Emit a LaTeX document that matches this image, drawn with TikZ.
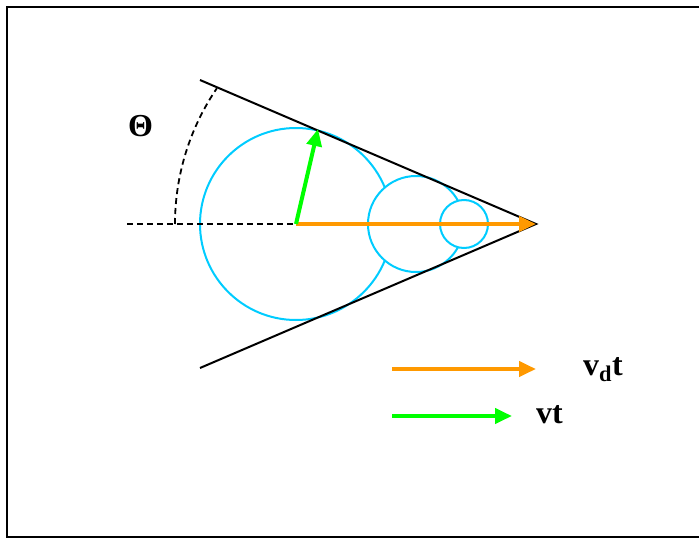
\documentclass[tikz,border=0pt]{standalone}
\usepackage{fontspec}
\setmainfont{Liberation Serif}
\usetikzlibrary{arrows.meta}
\definecolor{waveCyan}{RGB}{0,204,255}
\definecolor{driftOrange}{RGB}{255,153,0}
\definecolor{speedGreen}{RGB}{0,255,0}
\begin{document}
\begin{tikzpicture}[x=1pt, y=-1pt,
    % --- Styles ---
    cone line/.style={draw=black, line width=2pt},
    % Dashed guides for the angle
    guide line/.style={draw=black, line width=1.8pt, dash pattern=on 6pt off 4pt},
    % Later fronts cover the earlier ones
    wave circle/.style={draw=waveCyan, fill=white, line width=2pt},
    % Velocity arrows
    drift arrow/.style={draw=driftOrange, line width=4pt, -{Triangle[length=17pt, width=15pt]}},
    speed arrow/.style={draw=speedGreen, line width=4pt, -{Triangle[length=17pt, width=15pt]}},
    label node/.style={font=\fontsize{32}{34}\selectfont\bfseries, inner sep=0pt, anchor=base west}
]

%================CONFIGURATION================
% \yAxis: height of the cone axis
\def\yAxis{224}
%=============================================

\useasboundingbox (0,0) rectangle (699,538);

% --- Frame ---
\draw[line width=2pt] (705,6.5) -- (6.5,6.5) -- (6.5,537) -- (705,537);

% --- Points of the cone ---
\coordinate (apex) at (536,\yAxis);
\coordinate (upperEnd) at (200,80);
\coordinate (lowerEnd) at (200,368);
\coordinate (cBig) at (296,\yAxis);
\coordinate (cMid) at (416,\yAxis);
\coordinate (cSmall) at (464,\yAxis);
\coordinate (guideStart) at (127,\yAxis);
\coordinate (arcStart) at (175,\yAxis);
\coordinate (tangent) at (318,129);

% --- Wave fronts ---
\draw[wave circle] (cBig) circle[radius=96];
\draw[wave circle] (cMid) circle[radius=48];
\draw[wave circle] (cSmall) circle[radius=24];

% --- Cone ---
\draw[cone line] (upperEnd) -- (apex) -- (lowerEnd);

% --- Angle ---
\draw[guide line] (guideStart) -- (cBig);
\draw[guide line] (arcStart) arc[start angle=180, end angle=214.3, radius=241];
\node[label node] (theta) at (128,136) {Θ};

% --- Velocities ---
\draw[drift arrow] (cBig) -- (apex);
\draw[speed arrow] (cBig) -- (tangent);

% --- Legend ---
\coordinate (driftFrom) at (392,369);
\coordinate (driftTo) at (536,369);
\coordinate (speedFrom) at (392,416);
\coordinate (speedTo) at (512,416);
\draw[drift arrow] (driftFrom) -- (driftTo);
\draw[speed arrow] (speedFrom) -- (speedTo);
\node[label node] (vdt) at (583,375) {v\textsubscript{d}t};
\node[label node] (vt) at (536,423) {vt};

\end{tikzpicture}
\end{document}
